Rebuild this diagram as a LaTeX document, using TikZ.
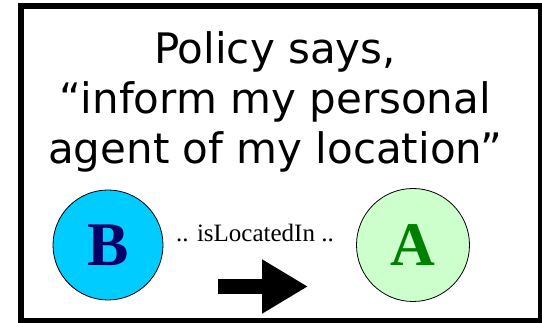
\documentclass[tikz,border=0pt]{standalone}
\usepackage{fontspec}
\setmainfont{Liberation Serif}
\newfontfamily\titlefont{DejaVu Sans}
\usetikzlibrary{arrows.meta}

\definecolor{bfill}{HTML}{00CCFF}
\definecolor{btext}{HTML}{000066}
\definecolor{afill}{HTML}{CCFFCC}
\definecolor{atext}{HTML}{008000}

\begin{document}
\begin{tikzpicture}[x=1pt, y=-1pt, thick]
  \useasboundingbox (0,0) rectangle (542,323);
  \node[draw, line width=6pt, minimum width=520pt, minimum height=315pt] (frame) at (281,163.5) {};

  \node[align=center, font=\titlefont\fontsize{42}{50}\selectfont] (policy) at (275,102) {Policy says,\\“inform my personal\\agent of my location”};

  \node[circle, draw, fill=bfill, text=btext, minimum size=110pt, inner sep=0pt, font=\bfseries\fontsize{62}{62}\selectfont] (B) at (108,245) {B};
  \node[circle, draw, fill=afill, text=atext, minimum size=113pt, inner sep=0pt, font=\bfseries\fontsize{62}{62}\selectfont] (A) at (413,245) {A};

  \node[font=\fontsize{25}{25}\selectfont] (rel) at (255,233.5) {.. isLocatedIn ..};

  \coordinate (tail) at (218,286.5);
  \coordinate (tip) at (308,286.5);
  \draw[line width=15pt, -{Triangle[length=46pt, width=51pt]}] (tail) -- (tip);
\end{tikzpicture}
\end{document}
